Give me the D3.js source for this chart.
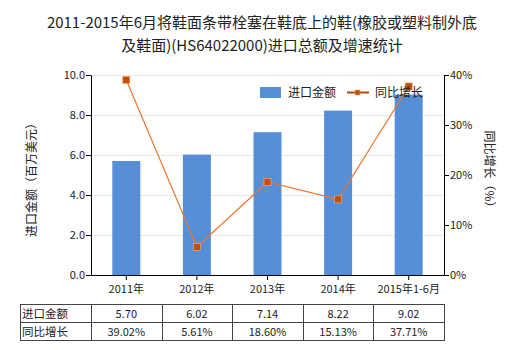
<!DOCTYPE html>
<html><head><meta charset="utf-8">
<script src="https://cdn.jsdelivr.net/npm/d3@7"></script>
<style>body{margin:0;background:#fff}svg{display:block;font-family:"Noto Sans CJK SC","Noto Sans",sans-serif}</style>
</head><body><svg id="c" width="520" height="350"></svg>
<script>
const categories = ["2011年","2012年","2013年","2014年","2015年1-6月"];
const amounts = [5.70, 6.02, 7.14, 8.22, 9.02];
const growth = [39.02, 5.61, 18.60, 15.13, 37.71];
const amountLabels = ["5.70","6.02","7.14","8.22","9.02"];
const growthLabels = ["39.02%","5.61%","18.60%","15.13%","37.71%"];
const leftTicks = [0,2,4,6,8,10];
const rightTicks = [0,10,20,30,40];

const svg = d3.select("#c");
const L = 91, R = 444, T = 75, B = 275;
const x = d3.scaleBand().domain(categories).range([L, R]);
const yL = d3.scaleLinear().domain([0,10]).range([B, T]);
const yR = d3.scaleLinear().domain([0,40]).range([B, T]);

// title
const title = svg.append("text").attr("text-anchor","middle").attr("font-size",15).attr("fill","#222");
title.append("tspan").attr("x",262).attr("y",28).text("2011-2015年6月将鞋面条带栓塞在鞋底上的鞋(橡胶或塑料制外底");
title.append("tspan").attr("x",262).attr("y",51).text("及鞋面)(HS64022000)进口总额及增速统计");

// gridlines
svg.append("g").selectAll("line").data(leftTicks.slice(1)).join("line")
  .attr("x1",L).attr("x2",R).attr("y1",d=>yL(d)+0.5).attr("y2",d=>yL(d)+0.5)
  .attr("stroke","#ebe8dd").attr("stroke-width",1);

// bars
const bw = 28;
svg.append("g").selectAll("rect").data(amounts).join("rect")
  .attr("x",(d,i)=>x(categories[i])+x.bandwidth()/2-bw/2)
  .attr("width",bw)
  .attr("y",d=>yL(d)).attr("height",d=>B-yL(d))
  .attr("fill","#568fd8");

// axes
const axL = svg.append("g").attr("transform",`translate(${L},0)`)
  .call(d3.axisLeft(yL).tickValues(leftTicks).tickFormat(d3.format(".1f")).tickSize(5).tickSizeOuter(0));
const axR = svg.append("g").attr("transform",`translate(${R},0)`)
  .call(d3.axisRight(yR).tickValues(rightTicks).tickFormat(d=>d+"%").tickSize(5).tickSizeOuter(0));
const axB = svg.append("g").attr("transform",`translate(0,${B})`)
  .call(d3.axisBottom(x).tickSize(5).tickSizeOuter(0));
[axL,axR,axB].forEach(a=>{
  a.selectAll("path,line").attr("stroke","#000");
  a.selectAll("text").attr("font-size",11).attr("fill","#222").attr("font-family",'"Noto Sans CJK SC",sans-serif');
});
axL.selectAll("text").attr("x",-6);
axR.selectAll("text").attr("x",6);
axB.selectAll("text").attr("dy","0.9em");

// line
const line = d3.line().x((d,i)=>x(categories[i])+x.bandwidth()/2).y(d=>yR(d));
svg.append("path").datum(growth).attr("d",line).attr("fill","none")
  .attr("stroke","#e8772e").attr("stroke-width",1.2);
svg.append("g").selectAll("rect").data(growth).join("rect")
  .attr("x",(d,i)=>x(categories[i])+x.bandwidth()/2-3.5)
  .attr("y",d=>yR(d)-3.5).attr("width",7).attr("height",7)
  .attr("fill","#c04f0f").attr("stroke","#f0a060").attr("stroke-width",0.8);

// axis titles
svg.append("text").attr("transform","translate(36,177) rotate(-90)")
  .attr("text-anchor","middle").attr("font-size",12).attr("fill","#222").text("进口金额（百万美元）");
svg.append("text").attr("transform","translate(485,172) rotate(90)")
  .attr("text-anchor","middle").attr("font-size",12).attr("fill","#222").text("同比增长（%）");

// legend
const lg = svg.append("g");
lg.append("rect").attr("x",260).attr("y",87).attr("width",21).attr("height",11).attr("fill","#568fd8");
lg.append("text").attr("x",288).attr("y",97).attr("font-size",12).attr("fill","#222").text("进口金额");
lg.append("line").attr("x1",347).attr("x2",369).attr("y1",92.5).attr("y2",92.5).attr("stroke","#b5470b").attr("stroke-width",2);
lg.append("rect").attr("x",355).attr("y",90).attr("width",5).attr("height",5).attr("fill","#c04f0f").attr("stroke","#f0a060").attr("stroke-width",0.6);
lg.append("text").attr("x",375).attr("y",97).attr("font-size",12).attr("fill","#222").text("同比增长");

// table
const cols = [20].concat(categories.map(c=>x(c)+x.bandwidth()), []);
const colEdges = [20, L].concat(categories.map(c=>x(c)+x.bandwidth()));
const rows = [304, 322, 340];
const tg = svg.append("g").attr("stroke","#444").attr("stroke-width",1);
rows.forEach(r=>tg.append("line").attr("x1",20).attr("x2",R).attr("y1",r+0.5).attr("y2",r+0.5));
colEdges.forEach(c=>tg.append("line").attr("x1",Math.round(c)+0.5).attr("x2",Math.round(c)+0.5).attr("y1",rows[0]).attr("y2",rows[2]+1));
const rowNames = ["进口金额","同比增长"];
const rowVals = [amountLabels, growthLabels];
rowNames.forEach((n,ri)=>{
  svg.append("text").attr("x",22).attr("y",rows[ri]+14).attr("font-size",11.5).attr("fill","#222").text(n);
  rowVals[ri].forEach((v,i)=>{
    svg.append("text").attr("x",x(categories[i])+x.bandwidth()/2).attr("y",rows[ri]+14)
      .attr("text-anchor","middle").attr("font-size",11).attr("fill","#222").text(v);
  });
});
</script></body></html>
